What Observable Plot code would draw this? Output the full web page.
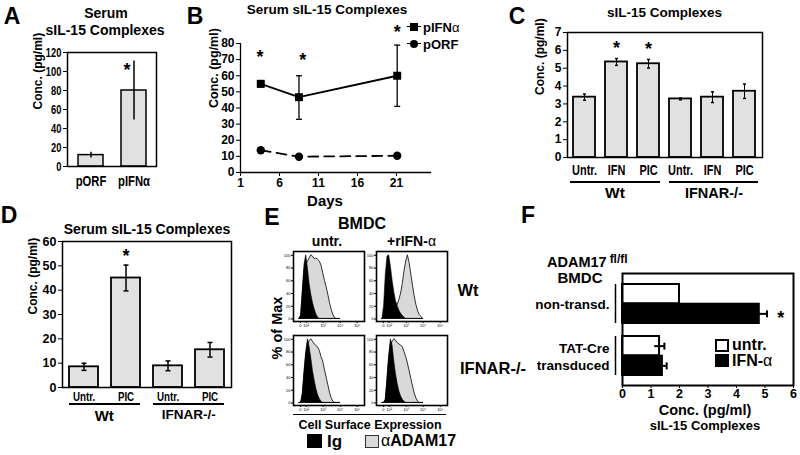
<!DOCTYPE html>
<html><head><meta charset="utf-8">
<script src="https://cdn.jsdelivr.net/npm/d3@7"></script>
<script src="https://cdn.jsdelivr.net/npm/@observablehq/plot@0.6"></script>
<style>
body{margin:0;background:#fff;}
#fig{position:relative;width:800px;height:455px;overflow:hidden;background:#fff;font-family:"Liberation Sans",Arial,Helvetica,sans-serif;font-weight:bold;color:#000;}
.t{position:absolute;white-space:nowrap;line-height:1;}
.n{font-weight:normal;}
</style></head><body><div id="fig"></div>
<script>
// ---------- DATA ----------
// Panel A
const aCats = ["pORF", "pIFNα"];
const aVals = [12, 80];
const aErr = [3, 31];
const aTicks = [0, 20, 40, 60, 80, 100, 120];
const aStarCat = ["pIFNα"];
const aStarY = [106];
// Panel B
const bDays = [3.6, 8.5, 21.1];
const bIfn = [55, 46.7, 60];
const bIfnLo = [53, 33, 41];
const bIfnHi = [57, 60, 79];
const bOrf = [13.8, 9.8, 10.4];
const bOrfLo = [13, 9.2, 9.8];
const bOrfHi = [14.6, 10.4, 11];
const bXTicks = [1, 6, 11, 16, 21];
const bYTicks = [0, 10, 20, 30, 40, 50, 60, 70, 80];
const bStarDays = [3.5, 9.0, 21.1];
const bStarY = [74.4, 72.4, 89.7];
// Panel C
const cGroups = ["Wt", "Wt", "Wt", "IFNAR-/-", "IFNAR-/-", "IFNAR-/-"];
const cTreat = ["Untr.", "IFN", "PIC", "Untr.", "IFN", "PIC"];
const cVals = [3.38, 5.35, 5.25, 3.28, 3.38, 3.71];
const cErr = [0.17, 0.19, 0.24, 0.05, 0.3, 0.4];
const cYTicks = [0, 1, 2, 3, 4, 5, 6, 7];
const cStarIdx = [1, 2];
const cStarY = [6.38, 6.29];
// Panel D
const dGroups = ["Wt", "Wt", "IFNAR-/-", "IFNAR-/-"];
const dTreat = ["Untr.", "PIC", "Untr.", "PIC"];
const dVals = [8.5, 45, 8.9, 15.5];
const dErr = [1.45, 5.3, 2, 3];
const dYTicks = [0, 10, 20, 30, 40, 50, 60];
const dStarIdx = [1];
const dStarY = [55.6];
// Panel E (flow histograms, % of max vs log fluorescence in decades)
const eX = [1.6,1.7,1.8,1.9,2.0,2.1,2.2,2.3,2.4,2.5,2.6,2.7,2.8,2.9,3.0,3.1,3.2,3.3,3.4,3.5,3.6,3.7,3.8,3.9,4.0];
const wtUntrIg   = [0,5,45,85,100,80,55,38,25,15,7,2,0,0,0,0,0,0,0,0,0,0,0,0,0];
const wtUntrAdam = [0,5,40,75,85,90,95,100,98,94,95,93,90,84,72,60,50,38,25,14,6,1,0,0,0];
const wtIfnIg    = [0,20,70,98,100,82,60,42,28,20,13,8,5,2,0,0,0,0,0,0,0,0,0,0,0];
const wtIfnAdam  = [0,3,8,12,14,15,15,16,18,22,30,40,55,75,90,100,88,70,52,35,22,12,6,3,0];
const koUntrIg   = [0,0,15,50,80,100,88,70,50,35,22,12,6,2,0,0,0,0,0,0,0,0,0,0,0];
const koUntrAdam = [0,0,12,45,75,90,97,100,96,92,90,87,82,72,65,52,40,28,16,7,2,0,0,0,0];
const koIfnIg    = [0,0,5,40,75,100,90,65,45,30,18,10,5,2,0,0,0,0,0,0,0,0,0,0,0];
const koIfnAdam  = [0,0,5,35,70,90,96,100,98,94,92,90,88,80,72,62,50,38,26,15,7,2,0,0,0];
const eXTicks = [1.66, 2, 3, 4, 5];
const eXTickLabels = ["0", "10²", "10³", "10⁴", "10⁵"];
const eYTicks = [0, 20, 40, 60, 80, 100];
// Panel F
const fGroups = ["non-transd.", "TAT-Cre\ntransduced"];
const fUntr = [2.0, 1.3];
const fUntrErr = [0, 0.17];
const fIfn = [4.8, 1.4];
const fIfnErr = [0.27, 0.15];
const fXTicks = [0, 1, 2, 3, 4, 5, 6];
const fStarX = [5.55];
const fStarGroup = ["non-transd."];

// ---------- HELPERS ----------
const fig = document.getElementById("fig");
const FONT = '"Liberation Sans", Arial, Helvetica, sans-serif';
const GRAY = "#e1e1e1";
const HGRAY = "#d9d9d9";
const baseStyle = {fontFamily: FONT, background: "transparent", overflow: "visible"};
const capH = {draw(ctx, size) { const r = Math.sqrt(size / Math.PI); ctx.moveTo(-r, 0); ctx.lineTo(r, 0); }};
const capV = {draw(ctx, size) { const r = Math.sqrt(size / Math.PI); ctx.moveTo(0, -r); ctx.lineTo(0, r); }};
const fmt = d => String(d);

function place(svg, left, top) {
  svg.style.position = "absolute"; svg.style.left = left + "px"; svg.style.top = top + "px";
  fig.append(svg); return svg;
}
// horizontally condense axis tick labels (reference uses a narrow typeface); call after placing
function condense(svg, axis, k) {
  svg.querySelectorAll("g[aria-label]").forEach(g => {
    const lab = g.getAttribute("aria-label");
    if (!lab.startsWith(axis + "-axis") || !lab.includes("label")) return;
    g.querySelectorAll("text").forEach(t => {
      const len = t.getComputedTextLength();
      if (len > 0) { t.setAttribute("textLength", (len * k).toFixed(2)); t.setAttribute("lengthAdjust", "spacingAndGlyphs"); }
    });
  });
}
function txt(html, x, y, size, o = {}) {
  const d = document.createElement("div");
  d.className = "t"; d.innerHTML = html;
  d.style.left = x + "px"; d.style.top = y + "px"; d.style.fontSize = size + "px";
  const ax = o.ax ?? -50;
  d.style.transform = `translate(${ax}%,-50%)` + (o.rot ? ` rotate(${o.rot}deg)` : "");
  fig.append(d); return d;
}
function box(x, y, w, h, css) {
  const d = document.createElement("div");
  d.style.position = "absolute"; d.style.left = x + "px"; d.style.top = y + "px";
  d.style.width = w + "px"; d.style.height = h + "px"; d.style.boxSizing = "border-box";
  Object.assign(d.style, css); fig.append(d); return d;
}
const star = (size) => ({text: () => "*", fontSize: size, fontWeight: "bold", dy: size * 0.25});
function groupLines(plot, left, keys, groups, lineY, labelY, sizes) {
  const sx = plot.scale("x");
  const sc = d3.scaleBand().domain(sx.domain).range(sx.range)
    .paddingInner(sx.paddingInner ?? sx.padding ?? 0).paddingOuter(sx.paddingOuter ?? sx.padding ?? 0).align(sx.align ?? 0.5);
  const uniq = [...new Set(groups)];
  uniq.forEach((g, gi) => {
    const ks = keys.filter((k, i) => groups[i] === g);
    const x1 = left + sc(ks[0]), x2 = left + sc(ks[ks.length - 1]) + sc.bandwidth();
    box(x1, lineY - 0.75, x2 - x1, 1.5, {background: "#000"});
    txt(g, (x1 + x2) / 2, labelY, sizes[gi]);
  });
}

// ---------- PANEL A ----------
const aData = aCats.map((c, i) => ({c, v: aVals[i], lo: aVals[i] - aErr[i], hi: aVals[i] + aErr[i]}));
const aStars = aStarCat.map((c, i) => ({c, y: aStarY[i]}));
const pA = Plot.plot({
  width: 165, height: 160, marginLeft: 67, marginRight: 9, marginTop: 12, marginBottom: 34,
  style: baseStyle,
  x: {type: "band", domain: aCats, paddingInner: 0.43, paddingOuter: 0.23, axis: null},
  y: {domain: [0, 120], axis: null},
  marks: [
    Plot.barY(aData, {x: "c", y: "v", fill: GRAY, stroke: "black", strokeWidth: 1.5}),
    Plot.ruleX(aData, {x: "c", y1: "lo", y2: "hi", strokeWidth: 1.5}),
    Plot.frame({strokeWidth: 1.5}),
    Plot.axisY(aTicks, {tickSize: 4, tickPadding: 2, tickFormat: fmt, label: null, fontSize: 13, fontWeight: "bold"}),
    Plot.axisX(aCats, {tickSize: 0, tickPadding: 9, label: null, fontSize: 15, fontWeight: "bold"}),
    Plot.text(["Conc. (pg/ml)"], {frameAnchor: "left", rotate: -90, dx: -29, fontSize: 12, fontWeight: "bold"}),
    Plot.text(aStars, {x: "c", y: "y", dx: -7, ...star(18)})
  ]
});
place(pA, 0, 40);
condense(pA, "y", 0.72); condense(pA, "x", 0.75);
txt("A", 12, 16, 23);
txt("Serum", 106, 12.5, 14);
txt("sIL-15 Complexes", 105, 30, 14);

// ---------- PANEL B ----------
const bI = bDays.map((d, i) => ({d, v: bIfn[i], lo: bIfnLo[i], hi: bIfnHi[i]}));
const bO = bDays.map((d, i) => ({d, v: bOrf[i], lo: bOrfLo[i], hi: bOrfHi[i]}));
const bS = bStarDays.map((d, i) => ({d, y: bStarY[i]}));
const pB = Plot.plot({
  width: 300, height: 205, marginLeft: 50, marginRight: 59, marginTop: 43, marginBottom: 33,
  style: baseStyle,
  x: {domain: [1, 25.5], axis: null}, y: {domain: [0, 80], axis: null},
  marks: [
    Plot.ruleY([0], {strokeWidth: 1.3}),
    Plot.ruleX([1], {strokeWidth: 1.3}),
    Plot.axisY(bYTicks, {tickSize: 4, tickPadding: 2, tickFormat: fmt, label: null, fontSize: 12, fontWeight: "bold"}),
    Plot.axisX(bXTicks, {tickSize: 4, tickPadding: 2, tickFormat: fmt, label: null, fontSize: 12, fontWeight: "bold"}),
    Plot.text(["Conc. (pg/ml)"], {frameAnchor: "left", rotate: -90, dx: -27, fontSize: 12.5, fontWeight: "bold"}),
    Plot.ruleX(bI, {x: "d", y1: "lo", y2: "hi", strokeWidth: 1.3}),
    Plot.dot(bI, {x: "d", y: "lo", symbol: capH, r: 3, stroke: "black", fill: "none", strokeWidth: 1.3}),
    Plot.dot(bI, {x: "d", y: "hi", symbol: capH, r: 3, stroke: "black", fill: "none", strokeWidth: 1.3}),
    Plot.ruleX(bO, {x: "d", y1: "lo", y2: "hi", strokeWidth: 1.3}),
    Plot.line(bI, {x: "d", y: "v", strokeWidth: 1.8}),
    Plot.line(bO, {x: "d", y: "v", strokeWidth: 1.8, strokeDasharray: "10,6"}),
    Plot.dot(bI, {x: "d", y: "v", symbol: "square", r: 4.5, fill: "black", stroke: "none"}),
    Plot.dot(bO, {x: "d", y: "v", symbol: "circle", r: 4.2, fill: "black", stroke: "none"}),
    Plot.text(bS, {x: "d", y: "y", ...star(18)})
  ]
});
place(pB, 190, 0);
txt("B", 195, 16, 23);
txt("Serum sIL-15 Complexes", 327, 10, 13.5);
txt("Days", 325, 199.5, 15);
// legend B
box(407, 25.7, 14, 1.8, {background: "#000"});
box(410, 22.5, 8, 8, {background: "#000"});
txt("pIFN<span class='n'>α</span>", 423, 26.5, 13, {ax: 0});
box(407, 42.6, 14, 1.8, {background: "#000"});
box(410, 39.5, 8.4, 8.4, {background: "#000", borderRadius: "50%"});
txt("pORF", 423, 43.5, 13, {ax: 0});

// ---------- PANEL C ----------
const cKeys = cTreat.map((t, i) => cGroups[i] + "|" + t);
const cData = cKeys.map((k, i) => ({k, v: cVals[i], lo: cVals[i] - cErr[i], hi: cVals[i] + cErr[i]}));
const cStars = cStarIdx.map((j, i) => ({k: cKeys[j], y: cStarY[i]}));
const pC = Plot.plot({
  width: 285, height: 165, marginLeft: 57, marginRight: 33, marginTop: 12, marginBottom: 28,
  style: baseStyle,
  x: {type: "band", domain: cKeys, paddingInner: 0.3, paddingOuter: 0.106, axis: null},
  y: {domain: [0, 7], axis: null},
  marks: [
    Plot.barY(cData, {x: "k", y: "v", fill: GRAY, stroke: "black", strokeWidth: 1.8}),
    Plot.ruleX(cData, {x: "k", y1: "lo", y2: "hi", strokeWidth: 1}),
    Plot.dot(cData, {x: "k", y: "lo", symbol: capH, r: 1.5, stroke: "black", fill: "none"}),
    Plot.dot(cData, {x: "k", y: "hi", symbol: capH, r: 1.5, stroke: "black", fill: "none"}),
    Plot.frame({strokeWidth: 1.5}),
    Plot.axisY(cYTicks, {tickSize: 4, tickPadding: 2, tickFormat: fmt, label: null, fontSize: 12, fontWeight: "bold"}),
    Plot.axisX(cKeys, {tickSize: 0, tickPadding: 8, label: null, tickFormat: d => d.split("|")[1], fontSize: 14, fontWeight: "bold"}),
    Plot.text(["Conc. (pg/ml)"], {frameAnchor: "left", rotate: -90, dx: -27, fontSize: 12, fontWeight: "bold"}),
    Plot.text(cStars, {x: "k", y: "y", ...star(18)})
  ]
});
place(pC, 510, 20);
condense(pC, "x", 0.78);
groupLines(pC, 510, cKeys, cGroups, 182, 192.5, [15.5, 14.5]);
txt("C", 517, 16, 23);
txt("sIL-15 Complexes", 664.5, 13, 13.5);

// ---------- PANEL D ----------
const dKeys = dTreat.map((t, i) => dGroups[i] + "|" + t);
const dData = dKeys.map((k, i) => ({k, v: dVals[i], lo: dVals[i] - dErr[i], hi: dVals[i] + dErr[i]}));
const dStars = dStarIdx.map((j, i) => ({k: dKeys[j], y: dStarY[i]}));
const pD = Plot.plot({
  width: 240, height: 175, marginLeft: 62, marginRight: 9, marginTop: 11, marginBottom: 18,
  style: baseStyle,
  x: {type: "band", domain: dKeys, paddingInner: 0.31, paddingOuter: 0.155, axis: null},
  y: {domain: [0, 60], axis: null},
  marks: [
    Plot.barY(dData, {x: "k", y: "v", fill: GRAY, stroke: "black", strokeWidth: 1.8}),
    Plot.ruleX(dData, {x: "k", y1: "lo", y2: "hi", strokeWidth: 1.5}),
    Plot.dot(dData, {x: "k", y: "lo", symbol: capH, r: 2.5, stroke: "black", fill: "none", strokeWidth: 1.5}),
    Plot.dot(dData, {x: "k", y: "hi", symbol: capH, r: 2.5, stroke: "black", fill: "none", strokeWidth: 1.5}),
    Plot.frame({strokeWidth: 1.5}),
    Plot.axisY(dYTicks, {tickSize: 4, tickPadding: 2, tickFormat: fmt, label: null, fontSize: 12.5, fontWeight: "bold"}),
    Plot.axisX(dKeys, {tickSize: 0, tickPadding: 4, label: null, tickFormat: d => d.split("|")[1], fontSize: 13, fontWeight: "bold"}),
    Plot.text(["Conc. (pg/ml)"], {frameAnchor: "left", rotate: -90, dx: -29, fontSize: 12, fontWeight: "bold"}),
    Plot.text(dStars, {x: "k", y: "y", ...star(18)})
  ]
});
place(pD, 0, 230);
condense(pD, "x", 0.75);
groupLines(pD, 0, dKeys, dGroups, 404, 415, [15, 13.5]);
txt("D", 9, 215, 23);
txt("Serum sIL-15 Complexes", 147, 229, 14);

// ---------- PANEL E ----------
function histo(ig, adam, left, top) {
  const rows = eX.map((x, i) => ({x, ig: ig[i], adam: adam[i]}));
  const p = Plot.plot({
    width: 82, height: 80, marginLeft: 10, marginRight: 1, marginTop: 1, marginBottom: 9,
    style: baseStyle,
    x: {domain: [1.253, 5.43], axis: null}, y: {domain: [-4, 106], axis: null},
    marks: [
      Plot.areaY(rows, {x: "x", y: "adam", fill: HGRAY, stroke: "black", strokeWidth: 0.8}),
      Plot.areaY(rows, {x: "x", y: "ig", fill: "black", stroke: "black", strokeWidth: 0.6}),
      Plot.frame({strokeWidth: 1.6}),
      Plot.axisX(eXTicks, {tickFormat: (d, i) => eXTickLabels[i], tickSize: 2, tickPadding: 1, fontSize: 4, label: null, fontWeight: "normal"}),
      Plot.axisY(eYTicks, {tickSize: 2, tickPadding: 1, tickFormat: fmt, fontSize: 4, label: null, fontWeight: "normal"})
    ]
  });
  place(p, left, top);
}
histo(wtUntrIg, wtUntrAdam, 283, 250);
histo(wtIfnIg, wtIfnAdam, 366, 250);
histo(koUntrIg, koUntrAdam, 283, 334);
histo(koIfnIg, koIfnAdam, 366, 334);
txt("E", 272, 217, 23);
txt("BMDC", 362, 224, 16);
txt("untr.", 327, 241, 14);
txt("+rIFN-<span class='n'>α</span>", 411.5, 241, 14);
txt("Wt", 468, 290, 16.5);
txt("IFNAR-/-", 493, 368, 16.5);
txt("% of Max", 277, 328, 14.5, {rot: -90});
box(293, 413.5, 153, 1.5, {background: "#000"});
txt("Cell Surface Expression", 370, 425, 12.5);
box(307, 434, 15, 14, {background: "#000"});
txt("Ig", 327, 441, 17, {ax: 0});
box(365, 435, 14, 13, {background: HGRAY, border: "1px solid #333"});
txt("<span class='n'>α</span>ADAM17", 381, 441, 16, {ax: 0});

// ---------- PANEL F ----------
const fH = 135, fMT = 8, fMB = 15, fPI = 0.25, fPO = 0.19;
const fStep = (fH - fMT - fMB) / (2 - fPI + 2 * fPO);
const fBw = fStep * (1 - fPI);
const fData = fGroups.map((g, i) => ({g, u: fUntr[i], ue: fUntrErr[i], f: fIfn[i], fe: fIfnErr[i]}));
const fUE = fData.filter(d => d.ue > 0);
const fFE = fData.filter(d => d.fe > 0);
const fS = fStarGroup.map((g, i) => ({g, x: fStarX[i]}));
const pF = Plot.plot({
  width: 262, height: fH, marginLeft: 87, marginRight: 4, marginTop: fMT, marginBottom: fMB,
  style: baseStyle,
  x: {domain: [0, 6], axis: null},
  y: {type: "band", domain: fGroups, paddingInner: fPI, paddingOuter: fPO, axis: null},
  marks: [
    Plot.barX(fData, {y: "g", x: "u", fill: "white", stroke: "black", strokeWidth: 2, insetBottom: fBw / 2}),
    Plot.barX(fData, {y: "g", x: "f", fill: "black", stroke: "black", strokeWidth: 2, insetTop: fBw / 2}),
    Plot.ruleY(fUE, {y: "g", x1: d => d.u - d.ue, x2: d => d.u + d.ue, dy: -fBw / 4, strokeWidth: 2}),
    Plot.dot(fUE, {y: "g", x: d => d.u + d.ue, dy: -fBw / 4, symbol: capV, r: 3.5, stroke: "black", fill: "none", strokeWidth: 2}),
    Plot.ruleY(fFE, {y: "g", x1: d => d.f - d.fe, x2: d => d.f + d.fe, dy: fBw / 4, strokeWidth: 2}),
    Plot.dot(fFE, {y: "g", x: d => d.f + d.fe, dy: fBw / 4, symbol: capV, r: 3.5, stroke: "black", fill: "none", strokeWidth: 2}),
    Plot.frame({strokeWidth: 2}),
    Plot.axisX(fXTicks, {tickSize: 3, tickPadding: 1, tickFormat: fmt, label: null, fontSize: 12.5, fontWeight: "bold"}),
    Plot.text(fGroups, {y: d => d, text: d => d, frameAnchor: "left", textAnchor: "end", dx: -13, fontSize: 13.5, fontWeight: "bold", lineHeight: 1.25}),
    Plot.tickX(fGroups, {x: 0, y: d => d, dx: -7, strokeWidth: 1.5}),
    Plot.text(fS, {x: "x", y: "g", dy: fBw / 4 + 4.5, text: () => "*", fontSize: 18, fontWeight: "bold"})
  ]
});
place(pF, 535, 265);
txt("F", 528, 215, 23);
txt("ADAM17<sup style='font-size:12px;vertical-align:0.3em;margin-left:3px'>fl/fl</sup>", 547, 261, 14.5, {ax: 0});
txt("BMDC", 580, 277, 15);
txt("Conc. (pg/ml)", 705, 409.5, 14.5);
txt("sIL-15 Complexes", 705, 425, 13);
box(715, 339, 14, 13, {background: "#fff", border: "2px solid #000"});
txt("untr.", 732, 345, 16, {ax: 0});
box(715, 354, 14, 13, {background: "#000"});
txt("IFN-<span class='n'>α</span>", 732, 361, 16, {ax: 0});
</script></body></html>
